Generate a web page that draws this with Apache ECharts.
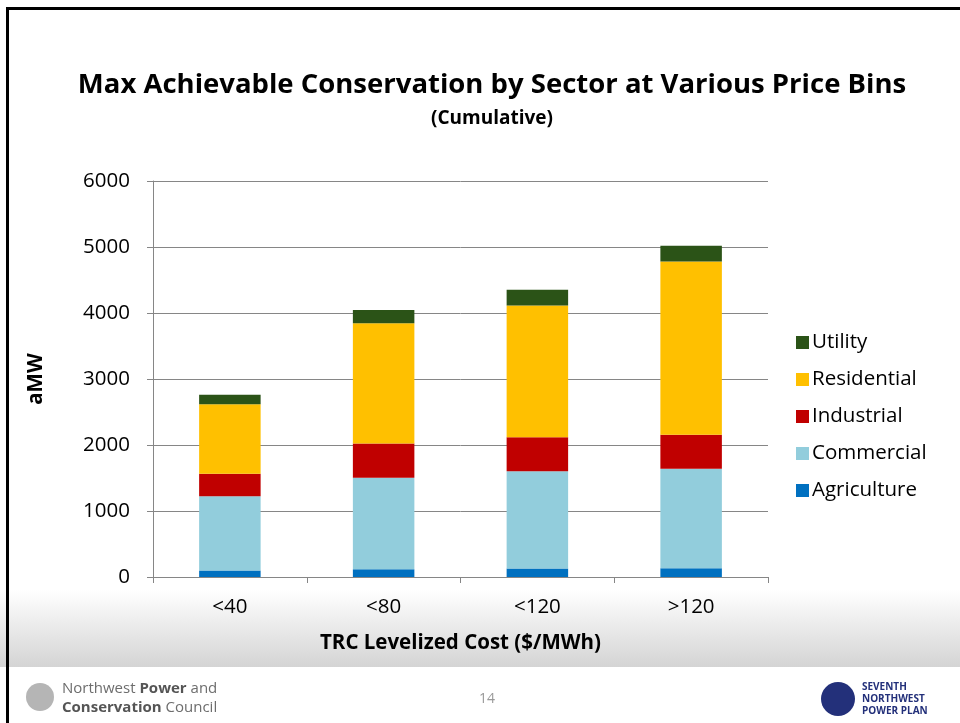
<!DOCTYPE html>
<html>
<head>
<meta charset="utf-8">
<script src="https://cdn.jsdelivr.net/npm/echarts@6/dist/echarts.min.js"></script>
<style>
  html, body { margin: 0; padding: 0; background: #fff; }
  #chart { width: 960px; height: 723px; }
</style>
</head>
<body>
<div id="chart"></div>
<script>
  // price bins
  const categories = ['<40', '<80', '<120', '>120']
  // cumulative aMW by sector
  const agriculture = [100, 116, 127, 132]
  const commercial = [1125, 1387, 1477, 1508]
  const industrial = [340, 519, 514, 514]
  const residential = [1053, 1821, 1997, 2627]
  const utility = [142, 202, 237, 237]
  const yTicks = [0, 1000, 2000, 3000, 4000, 5000, 6000]

  const sectors = [
    { name: 'Agriculture', data: agriculture, color: '#0070C0' },
    { name: 'Commercial', data: commercial, color: '#92CDDC' },
    { name: 'Industrial', data: industrial, color: '#C00000' },
    { name: 'Residential', data: residential, color: '#FFC000' },
    { name: 'Utility', data: utility, color: '#2B5317' }
  ]

  const font = '"Open Sans", Lato, sans-serif'
  const chart = echarts.init(document.getElementById('chart'))

  const option = {
    backgroundColor: '#fff',
    textStyle: { fontFamily: font, color: '#000' },
    title: [
      {
        text: 'Max Achievable Conservation by Sector at Various Price Bins',
        left: 487,
        top: 66,
        textAlign: 'center',
        textStyle: { fontSize: 27.5, fontWeight: 'bold', color: '#000', fontFamily: font }
      },
      {
        text: '(Cumulative)',
        left: 487,
        top: 104,
        textAlign: 'center',
        textStyle: { fontSize: 19, fontWeight: 'bold', color: '#000', fontFamily: font }
      }
    ],
    graphic: [
      {
        type: 'rect',
        z: -10,
        silent: true,
        shape: { x: 0, y: 590, width: 960, height: 77 },
        style: {
          fill: new echarts.graphic.LinearGradient(0, 0, 0, 1, [
            { offset: 0, color: '#ffffff' },
            { offset: 1, color: '#d4d4d4' }
          ])
        }
      },
      { type: 'rect', shape: { x: 6, y: 7, width: 954, height: 3 }, style: { fill: '#000' } },
      { type: 'rect', shape: { x: 6, y: 7, width: 3, height: 716 }, style: { fill: '#000' } },
      // footer
      { type: 'circle', shape: { cx: 40, cy: 697, r: 14 }, style: { fill: '#b5b5b5' } },
      {
        type: 'text',
        left: 62,
        top: 679,
        style: {
          text: 'Northwest {b|Power} and\n{b|Conservation} Council',
          fontFamily: font,
          fontSize: 15,
          lineHeight: 19,
          fill: '#6d6d6d',
          rich: { b: { fontWeight: 'bold', fontSize: 15, fill: '#555', fontFamily: font } }
        }
      },
      {
        type: 'text',
        x: 487,
        y: 699,
        style: {
          text: '14',
          fontFamily: font,
          fontSize: 14,
          fill: '#999',
          align: 'center',
          verticalAlign: 'middle'
        }
      },
      { type: 'circle', shape: { cx: 838, cy: 699, r: 17 }, style: { fill: '#23307a' } },
      {
        type: 'text',
        left: 862,
        top: 681,
        style: {
          text: 'SEVENTH\nNORTHWEST\nPOWER PLAN',
          fontFamily: font,
          fontSize: 10,
          fontWeight: 'bold',
          lineHeight: 12,
          fill: '#23307a'
        }
      }
    ],
    grid: {
      left: 153,
      right: 192,
      top: 181,
      bottom: 146
    },
    legend: {
      data: sectors.map((s) => s.name).reverse(),
      orient: 'vertical',
      left: 791,
      top: 326,
      itemWidth: 13,
      itemHeight: 13,
      itemGap: 14,
      icon: 'rect',
      textStyle: {
        fontSize: 20.5,
        lineHeight: 23,
        color: '#000',
        fontFamily: font,
        padding: [0, 0, 0, -2]
      }
    },
    xAxis: {
      type: 'category',
      data: categories,
      name: 'TRC Levelized Cost ($/MWh)',
      nameLocation: 'center',
      nameGap: 56,
      nameTextStyle: { fontSize: 20.5, fontWeight: 'bold', color: '#000', fontFamily: font },
      axisLine: { lineStyle: { color: '#868686', width: 1 } },
      axisTick: { show: true, length: 6, lineStyle: { color: '#868686' } },
      axisLabel: { fontSize: 20.5, color: '#000', margin: 20, fontFamily: font },
      splitLine: { show: false }
    },
    yAxis: {
      type: 'value',
      min: yTicks[0],
      max: yTicks[yTicks.length - 1],
      interval: 1000,
      name: 'aMW',
      nameLocation: 'center',
      nameGap: 106,
      nameTextStyle: { fontSize: 20.5, fontWeight: 'bold', color: '#000', fontFamily: font },
      axisLine: { show: true, lineStyle: { color: '#868686' } },
      axisTick: { show: true, length: 6, lineStyle: { color: '#868686' } },
      axisLabel: {
        fontSize: 20.5,
        color: '#000',
        margin: 23,
        fontFamily: font,
        formatter: (val) => String(val)
      },
      splitLine: { lineStyle: { color: '#868686', width: 1 } }
    },
    series: sectors.map((s) => ({
      name: s.name,
      type: 'bar',
      stack: 'total',
      barWidth: '40%',
      itemStyle: { color: s.color },
      emphasis: { disabled: true },
      data: s.data
    }))
  }

  chart.setOption(option)
</script>
</body>
</html>
